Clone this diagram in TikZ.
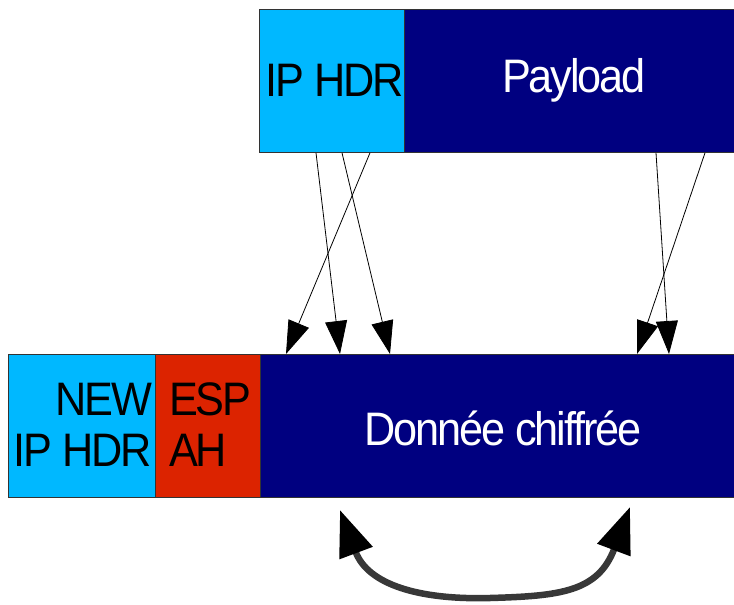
\documentclass[tikz,border=0pt]{standalone}
\usepackage{fontspec}
\setmainfont{Liberation Sans}[FakeStretch=0.92,LetterSpace=-4.5]
\usetikzlibrary{arrows.meta}
\definecolor{ipblue}{HTML}{00B8FF}
\definecolor{navy}{HTML}{000080}
\definecolor{espred}{HTML}{DC2300}
\begin{document}
\begin{tikzpicture}[x=1pt,y=-1pt,
  box/.style={draw=black!80,line width=0.8pt,inner sep=0pt,anchor=north west},
  lbl/.style={font=\fontsize{47}{51}\selectfont,inner sep=0pt},
  thin/.style={draw=black,line width=0.8pt,-{Triangle[length=33pt,width=22pt]}},
  big/.style={draw=black!78,line width=6.5pt,
    {Triangle[length=46pt,width=34pt,color=black]}-{Triangle[length=46pt,width=34pt,color=black]}}]
\useasboundingbox (0,0) rectangle (734,605);
% top boxes
\node[box,fill=ipblue,minimum width=145pt,minimum height=143pt] (iphdr) at (259,9) {};
\node[box,fill=navy,minimum width=329.5pt,minimum height=143pt] (payload) at (404,9) {};
\node[lbl] (iptxt) at (335,80) {IP HDR};
\node[lbl,text=white] (pltxt) at (574,80) {Payload};
% bottom boxes
\node[box,fill=ipblue,minimum width=147pt,minimum height=143pt] (newip) at (8,354) {};
\node[box,fill=espred,minimum width=105pt,minimum height=143pt] (esp) at (155,354) {};
\node[box,fill=navy,minimum width=473.5pt,minimum height=143pt] (data) at (260,354) {};
\node[lbl,align=right,anchor=east] (newtxt) at (152,425) {NEW\\IP HDR};
\node[lbl,align=left,anchor=west] (esptxt) at (169,425) {ESP\\AH};
\node[lbl,text=white] (datatxt) at (503,428) {Donnée chiffrée};
% thin arrows
\draw[thin] ([xshift=57pt]iphdr.south west) -- ([xshift=80pt]data.north west);
\draw[thin] ([xshift=83pt]iphdr.south west) -- ([xshift=130pt]data.north west);
\draw[thin] ([xshift=111pt]iphdr.south west) -- ([xshift=26pt]data.north west);
\draw[thin] ([xshift=252pt]payload.south west) -- ([xshift=409pt]data.north west);
\draw[thin] ([xshift=301pt]payload.south west) -- ([xshift=377pt]data.north west);
% curved double arrow
\coordinate (cl) at (340,510);
\coordinate (cr) at (630,507);
\draw[big] (cl) .. controls (368,585) and (420,600) .. (490,598)
  .. controls (560,596) and (598,592) .. (cr);
\end{tikzpicture}
\end{document}
